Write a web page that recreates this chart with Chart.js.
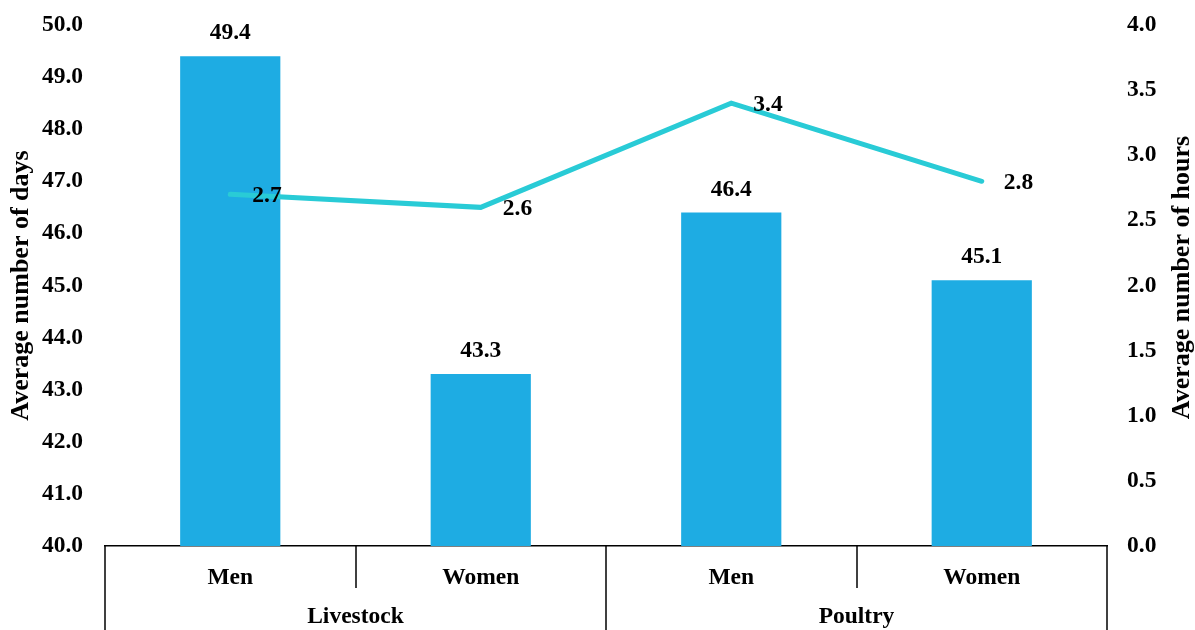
<!DOCTYPE html>
<html>
<head>
<meta charset="utf-8">
<script src="https://cdn.jsdelivr.net/npm/chart.js@4"></script>
<style>
  html, body { margin: 0; padding: 0; background: #ffffff; }
  #wrap { width: 1195px; height: 630px; position: relative; }
</style>
</head>
<body>
<div id="wrap"><canvas id="chart" width="1195" height="630"></canvas></div>
<script>
// Categories: sex within each activity group
const categories = ['Men', 'Women', 'Men', 'Women'];
const groups = ['Livestock', 'Livestock', 'Poultry', 'Poultry'];
// Average number of days (bars, left axis)
const daysValues = [49.4, 43.3, 46.4, 45.1];
// Average number of hours (line, right axis)
const hoursValues = [2.7, 2.6, 3.4, 2.8];

const FONT = '"Liberation Serif", "Times New Roman", serif';
const LABEL_SIZE = 23.5;
const BAR_COLOR = '#1EACE3';
const LINE_COLOR = '#29CBD6';

// Value labels above bars and to the right of line points
const valueLabels = {
  id: 'valueLabels',
  afterDatasetsDraw(chart) {
    const ctx = chart.ctx;
    ctx.save();
    ctx.fillStyle = '#000';
    ctx.font = 'bold ' + LABEL_SIZE + 'px ' + FONT;
    chart.getDatasetMeta(1).data.forEach((bar, i) => {
      ctx.textAlign = 'center';
      ctx.textBaseline = 'alphabetic';
      ctx.fillText(daysValues[i].toFixed(1), bar.x, bar.y - 17);
    });
    chart.getDatasetMeta(0).data.forEach((pt, i) => {
      ctx.textAlign = 'left';
      ctx.textBaseline = 'middle';
      ctx.fillText(hoursValues[i].toFixed(1), pt.x + 22, pt.y + 2);
    });
    ctx.restore();
  }
};

// Grouped category axis: separators, group names, right axis title
const groupAxis = {
  id: 'groupAxis',
  afterDraw(chart) {
    const ctx = chart.ctx;
    const x = chart.scales.x;
    const area = chart.chartArea;
    const bottom = chart.height;
    const half = (x.getPixelForValue(1) - x.getPixelForValue(0)) / 2;
    ctx.save();
    ctx.strokeStyle = '#000';
    ctx.lineWidth = 1.5;
    // category boundaries
    for (let i = 0; i <= categories.length; i++) {
      const px = Math.round(i < categories.length ? x.getPixelForValue(i) - half : x.getPixelForValue(i - 1) + half);
      const groupEdge = i === 0 || i === categories.length || groups[i] !== groups[i - 1];
      ctx.beginPath();
      ctx.moveTo(px, area.bottom);
      ctx.lineTo(px, groupEdge ? bottom : area.bottom + 42);
      ctx.stroke();
    }
    // group names
    ctx.fillStyle = '#000';
    ctx.font = 'bold ' + LABEL_SIZE + 'px ' + FONT;
    ctx.textAlign = 'center';
    ctx.textBaseline = 'middle';
    let start = 0;
    for (let i = 1; i <= groups.length; i++) {
      if (i === groups.length || groups[i] !== groups[start]) {
        const cx = (x.getPixelForValue(start) + x.getPixelForValue(i - 1)) / 2;
        ctx.fillText(groups[start], cx, area.bottom + 71);
        start = i;
      }
    }
    // right axis title, reading bottom to top
    ctx.translate(1182, (area.top + area.bottom) / 2 - 8);
    ctx.rotate(-Math.PI / 2);
    ctx.font = 'bold 26px ' + FONT;
    ctx.fillText('Average number of hours', 0, 0);
    ctx.restore();
  }
};

// Let the layout padding alone decide the top/bottom of the plot area
function noVerticalOverflow(s) {
  s.paddingTop = 0;
  s.paddingBottom = 0;
}

new Chart(document.getElementById('chart'), {
  data: {
    labels: categories,
    datasets: [
      {
        type: 'line',
        label: 'Average number of hours',
        data: hoursValues,
        yAxisID: 'y1',
        borderColor: LINE_COLOR,
        borderWidth: 5,
        borderCapStyle: 'round',
        borderJoinStyle: 'miter',
        pointRadius: 0,
        tension: 0,
        order: 0
      },
      {
        type: 'bar',
        label: 'Average number of days',
        data: daysValues,
        yAxisID: 'y',
        backgroundColor: BAR_COLOR,
        barPercentage: 0.4,
        categoryPercentage: 1.0,
        order: 1
      }
    ]
  },
  options: {
    responsive: false,
    animation: false,
    layout: { padding: { top: 25, left: 0, right: 0, bottom: 0 } },
    plugins: { legend: { display: false }, tooltip: { enabled: false } },
    scales: {
      x: {
        type: 'category',
        offset: true,
        grid: { display: false },
        border: { display: true, color: '#000', width: 1.5 },
        ticks: {
          color: '#000',
          font: { family: FONT, size: LABEL_SIZE, weight: 'bold' },
          padding: 10,
          maxRotation: 0
        },
        afterFit(s) { s.height = 84; }
      },
      y: {
        position: 'left',
        min: 40, max: 50,
        grid: { display: false, drawTicks: false },
        border: { display: false },
        ticks: {
          stepSize: 1,
          color: '#000',
          padding: 22,
          font: { family: FONT, size: LABEL_SIZE, weight: 'bold' },
          callback: v => Number(v).toFixed(1)
        },
        title: {
          display: true,
          text: 'Average number of days',
          color: '#000',
          font: { family: FONT, size: 26, weight: 'bold' },
          padding: { top: 6, bottom: 0 }
        },
        afterFit(s) { s.width = 105; noVerticalOverflow(s); }
      },
      y1: {
        position: 'right',
        min: 0, max: 4,
        grid: { display: false, drawTicks: false },
        border: { display: false },
        ticks: {
          stepSize: 0.5,
          color: '#000',
          padding: 20,
          font: { family: FONT, size: LABEL_SIZE, weight: 'bold' },
          callback: v => Number(v).toFixed(1)
        },
        afterFit(s) { s.width = 88; noVerticalOverflow(s); }
      }
    }
  },
  plugins: [valueLabels, groupAxis]
});
</script>
</body>
</html>
